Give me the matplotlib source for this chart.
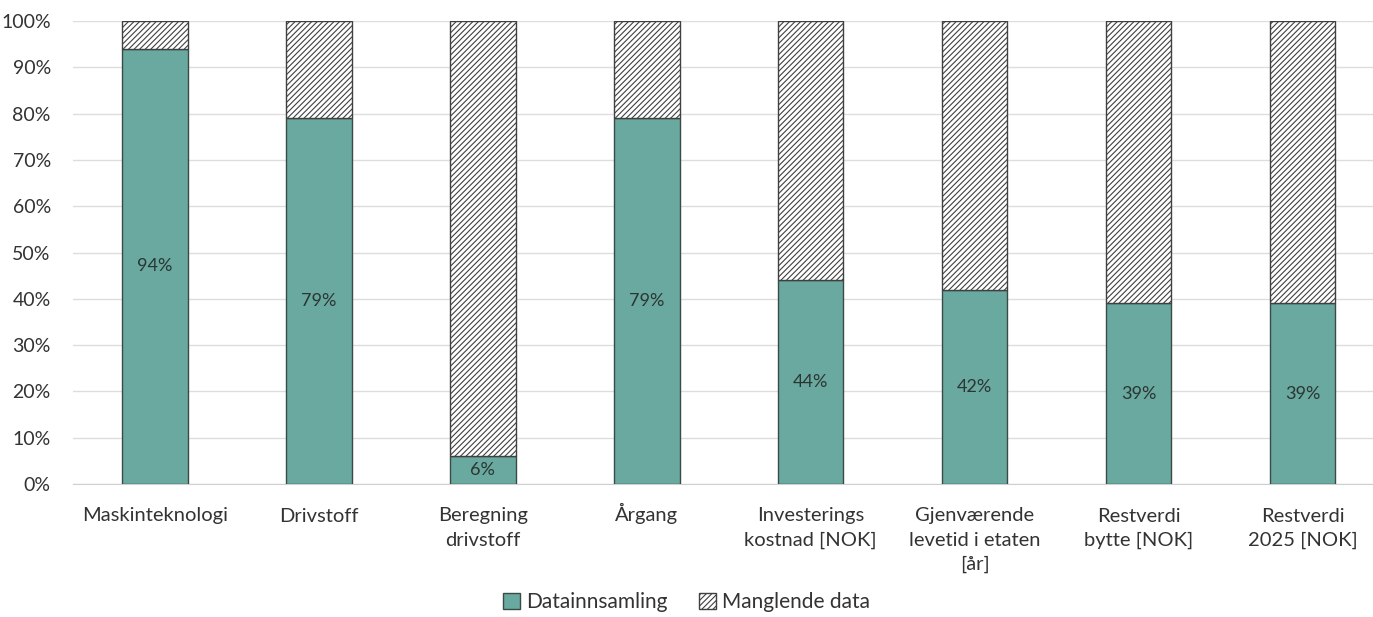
import matplotlib.pyplot as plt
import matplotlib.transforms as mtransforms
import numpy as np

categories = ["Maskinteknologi", "Drivstoff", "Beregning\ndrivstoff", "Årgang",
              "Investerings\nkostnad [NOK]", "Gjenværende\nlevetid i etaten\n[år]",
              "Restverdi\nbytte [NOK]", "Restverdi\n2025 [NOK]"]
collected = [94, 79, 6, 79, 44, 42, 39, 39]
missing = [100 - v for v in collected]

plt.rcParams['font.family'] = ['Lato', 'DejaVu Sans']
plt.rcParams['hatch.color'] = '#505050'
plt.rcParams['hatch.linewidth'] = 0.8

fig = plt.figure(figsize=(13.73, 6.17), dpi=100)
ax = fig.add_axes([73 / 1373, 1 - 484 / 617, 1300 / 1373, 463 / 617])

x = np.arange(len(categories))
w = 0.40
ax.bar(x, collected, w, color='#69A99F', edgecolor='#3a4a47', linewidth=1.0,
       label='Datainnsamling', zorder=3)
ax.bar(x, missing, w, bottom=collected, color='white', edgecolor='#404040',
       linewidth=1.0, hatch='//////', label='Manglende data', zorder=3)

for xi, v in zip(x, collected):
    ax.text(xi, v / 2, f"{v}%", ha='center', va='center', fontsize=13, color='#2b3533', zorder=4)

ax.set_xlim(-0.5, 7.43)
ax.set_ylim(0, 100)
ax.set_yticks(range(0, 101, 10))
ax.set_yticklabels([f"{t}%" for t in range(0, 101, 10)])
ax.set_xticks(x)
ax.set_xticklabels([])
ax.tick_params(axis='y', labelsize=14, labelcolor='#333333', length=0, pad=16)
ax.tick_params(axis='x', length=0)

# category names, one text per line so every first line sits on the same baseline
for xi, name in zip(x, categories):
    for i, line in enumerate(name.split("\n")):
        tr = mtransforms.offset_copy(ax.get_xaxis_transform(), fig=fig,
                                     y=-(27 + i * 17.5), units='points')
        ax.text(xi, 0, line, transform=tr, ha='center', va='baseline',
                fontsize=14.5, color='#333333')

ax.grid(axis='y', color='#dddddd', linewidth=1, zorder=0)
for s in ['top', 'right', 'left']:
    ax.spines[s].set_visible(False)
ax.spines['bottom'].set_color('#d0d0d0')

fig.legend(loc='lower center', bbox_to_anchor=(0.5, -0.022), ncol=2, frameon=False,
           fontsize=15, handlelength=0.8, handleheight=0.8, handletextpad=0.3,
           columnspacing=1.5, labelcolor='#333333')

fig.savefig('out.png', dpi=100)
